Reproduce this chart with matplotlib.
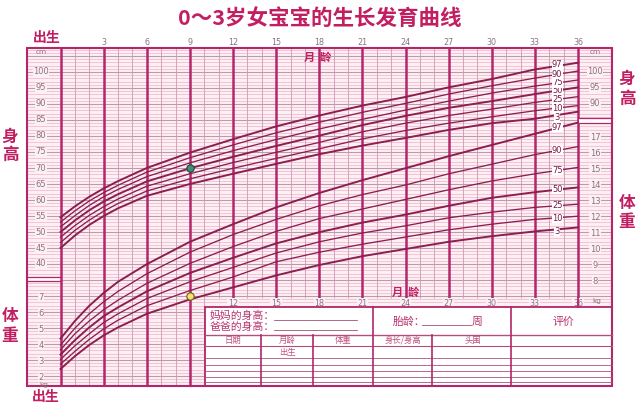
import numpy as np
import matplotlib
matplotlib.use('Agg')
import matplotlib.pyplot as plt
from matplotlib.patches import Rectangle
from matplotlib.transforms import offset_copy

plt.rcParams['font.family'] = ['Noto Sans CJK SC', 'DejaVu Sans']

# ---------------- data ----------------
months = [0, 1, 2, 3, 4, 6, 9, 12, 15, 18, 21, 24, 27, 30, 33, 36]
percentiles = ['3', '10', '25', '50', '75', '90', '97']

height_p3 = [45.0, 48.9, 52.2, 55.0, 57.4, 61.3, 65.0, 68.2, 71.3, 74.3, 77.0, 79.4, 81.9, 84.0, 85.4, 87.6]
height_p10 = [46.7, 50.5, 53.7, 56.5, 58.9, 62.8, 66.6, 69.9, 73.0, 76.0, 79.1, 81.7, 84.0, 86.0, 87.9, 89.5]
height_p25 = [48.4, 52.0, 55.2, 57.9, 60.3, 64.3, 68.2, 71.7, 74.9, 78.0, 81.3, 84.0, 86.4, 88.4, 90.5, 92.3]
height_p50 = [50.0, 53.6, 56.8, 59.5, 61.8, 65.8, 69.9, 73.5, 76.9, 80.1, 83.4, 86.3, 88.8, 90.9, 93.1, 95.2]
height_p75 = [51.6, 55.1, 58.3, 61.0, 63.3, 67.3, 71.6, 75.4, 78.9, 82.2, 85.2, 88.1, 90.9, 93.4, 95.6, 97.5]
height_p90 = [53.1, 56.6, 59.7, 62.3, 64.6, 68.7, 73.2, 77.2, 81.0, 84.3, 87.4, 90.2, 93.1, 95.7, 98.1, 100.3]
height_p97 = [54.6, 58.0, 61.0, 63.6, 65.9, 70.0, 74.8, 79.0, 83.0, 86.4, 89.5, 92.2, 95.2, 97.8, 100.8, 102.9]

weight_p3 = [2.5, 3.3, 4.0, 4.6, 5.1, 5.95, 6.85, 7.6, 8.35, 9.0, 9.55, 10.0, 10.45, 10.8, 11.1, 11.35]
weight_p10 = [2.8, 3.6, 4.35, 5.0, 5.55, 6.45, 7.4, 8.25, 9.2, 9.8, 10.3, 10.75, 11.2, 11.55, 11.85, 12.05]
weight_p25 = [3.1, 3.95, 4.7, 5.4, 5.95, 6.9, 7.95, 8.85, 9.75, 10.45, 11.0, 11.45, 11.95, 12.3, 12.6, 12.8]
weight_p50 = [3.4, 4.3, 5.1, 5.8, 6.35, 7.35, 8.5, 9.45, 10.35, 11.05, 11.65, 12.15, 12.7, 13.2, 13.55, 13.85]
weight_p75 = [3.7, 4.7, 5.5, 6.2, 6.8, 7.85, 9.1, 10.15, 11.1, 11.9, 12.5, 13.1, 13.7, 14.25, 14.7, 15.1]
weight_p90 = [4.0, 5.05, 5.95, 6.7, 7.35, 8.45, 9.8, 10.9, 11.85, 12.7, 13.4, 14.0, 14.7, 15.3, 15.9, 16.4]
weight_p97 = [4.4, 5.5, 6.45, 7.25, 7.95, 9.05, 10.45, 11.55, 12.6, 13.5, 14.3, 15.05, 15.8, 16.5, 17.2, 17.9]

height_series = [height_p3, height_p10, height_p25, height_p50, height_p75, height_p90, height_p97]
weight_series = [weight_p3, weight_p10, weight_p25, weight_p50, weight_p75, weight_p90, weight_p97]

month_ticks = [3, 6, 9, 12, 15, 18, 21, 24, 27, 30, 33, 36]
bottom_month_ticks = [12, 15, 18, 21, 24, 27, 30, 33, 36]
height_ticks_left = [100, 95, 90, 85, 80, 75, 70, 65, 60, 55, 50, 45, 40]
height_ticks_right = [100, 95, 90]
weight_ticks_left = [7, 6, 5, 4, 3, 2]
weight_ticks_right = [17, 16, 15, 14, 13, 12, 11, 10, 9, 8]

child_month = [9]
child_height = [70.0]
child_weight = [7.05]

title = '0～3岁女宝宝的生长发育曲线'

# ---------------- layout helpers ----------------
PXM = (578 - 60.5) / 36.0
def mx(px):
    return (px - 60.5) / PXM
def hy(py):
    return (392 - py) / 3.2
def wy(py):
    return (409 - py) / 16.0

CRIMSON = '#c21f63'
FRAME = '#b3266a'
CURVE = '#8a1f50'
NUM = '#8c7282'
BG = '#fdf0f5'

fig = plt.figure(figsize=(6.4, 4.18), dpi=100)
L, R, T, B = 27, 612, 48, 386
ax = fig.add_axes([L / 640, 1 - B / 418, (R - L) / 640, (B - T) / 418])
ax.set_xlim(mx(L), mx(R))
ax.set_ylim(hy(B), hy(T))
axw = ax.twinx()
axw.set_ylim(wy(B), wy(T))
for a in (ax, axw):
    a.set_xticks([])
    a.set_yticks([])
    for s in a.spines.values():
        s.set_visible(False)
ax.set_facecolor(BG)
axw.patch.set_visible(False)

# horizontal grid
for hc in range(2, 108):
    if hc % 5 == 0:
        ax.axhline(hc, color='#b89cac', lw=0.8, zorder=1)
    else:
        ax.axhline(hc, color='#f1b2c8', lw=0.5, zorder=0.8)

# vertical grid
for m in range(0, 37):
    top = hy(T)
    bot = hy(B) if m <= 10 else hy(298)
    if m % 3 == 0:
        ax.vlines(m, bot, top, color=FRAME, lw=1.8, zorder=2)
    else:
        ax.vlines(m, bot, top, color='#cc98b1', lw=0.6, zorder=1.5)

# curves
thick = {'3', '50', '97'}
LBL_M = 34.55
label_shift = {'3': -2.0, '10': -0.5, '97': 1.0}   # pixel nudges so labels stay apart
lblkw = dict(fontsize=6, color='#7a1a45', ha='center', va='center', family='DejaVu Sans',
             zorder=4, bbox=dict(fc='white', ec='none', pad=0.1))
for a, series in ((ax, height_series), (axw, weight_series)):
    for p, vals in zip(percentiles, series):
        a.plot(months, vals, color=CURVE, lw=1.4 if p in thick else 0.95, zorder=3)
        tr = offset_copy(a.transData, fig=fig, x=0, y=label_shift.get(p, 0.0) * 0.72, units='points')
        a.text(LBL_M, np.interp(LBL_M, months, vals), p, transform=tr, **lblkw)

# child points
ax.scatter(child_month, child_height, s=28, color='#3f8f72', edgecolor='#1f4a3a', lw=0.8, zorder=6)
axw.scatter(child_month, child_weight, s=28, color='#f3e46a', edgecolor='#6e5a1c', lw=0.8, zorder=6)

# scale labels
numkw = dict(fontsize=6, color=NUM, ha='center', va='center', family='DejaVu Sans', zorder=4,
             bbox=dict(fc=BG, ec='none', pad=0.4))
for h in height_ticks_left:
    ax.text(mx(41), h, str(h), **numkw)
for h in height_ticks_right:
    ax.text(mx(595), h, str(h), **numkw)
for w in weight_ticks_left:
    axw.text(mx(41), w, str(w), **numkw)
for w in weight_ticks_right:
    axw.text(mx(595), w, str(w), **numkw)

for m in month_ticks:
    ax.text(m, 1.0148, str(m), transform=ax.get_xaxis_transform(), fontsize=5.8, color=NUM,
            ha='center', va='center', family='DejaVu Sans')
for m in bottom_month_ticks:
    ax.text(m, hy(303), str(m), fontsize=5.8, color=NUM, ha='center', va='center',
            family='DejaVu Sans', zorder=4, bbox=dict(fc=BG, ec='none', pad=0.4))

ax.text(mx(318), hy(57), '月  龄', fontsize=8, color=CRIMSON, fontweight='bold',
        ha='center', va='center', zorder=4)
ax.text(mx(406), hy(292), '月  龄', fontsize=8, color=CRIMSON, fontweight='bold',
        ha='center', va='center', zorder=4)

# ---------------- overlay (frame, table, side texts) ----------------
ov = fig.add_axes([0, 0, 1, 1], zorder=5)
ov.set_xlim(0, 640)
ov.set_ylim(418, 0)
ov.axis('off')
ov.patch.set_visible(False)

ov.text(320, 18, title, fontsize=15.5, fontweight='bold', color=CRIMSON, ha='center', va='center')
ov.text(47, 38, '出生', fontsize=10, fontweight='bold', color=CRIMSON, ha='center', va='center')
ov.text(46, 397, '出生', fontsize=10, fontweight='bold', color=CRIMSON, ha='center', va='center')
for ch, x, y in [('身', 10, 137), ('高', 10, 155), ('体', 10, 316), ('重', 10, 336),
                 ('身', 627, 79), ('高', 627, 99), ('体', 627, 203), ('重', 627, 222)]:
    ov.text(x, y, ch, fontsize=12, fontweight='bold', color=CRIMSON, ha='center', va='center')

for x, y, t in [(41, 52, 'cm'), (595, 52, 'cm'), (44, 384.5, 'kg'), (597, 301, 'kg')]:
    ov.text(x, y, t, fontsize=5.3, color=NUM, ha='center', va='center', family='DejaVu Sans')

# column breaks
ov.add_patch(Rectangle((27.5, 276.5), 32.5, 4, fc='white', ec='none'))
ov.plot([27, 60.5], [276.5, 276.5], color=FRAME, lw=0.9)
ov.plot([27, 60.5], [280.5, 280.5], color=FRAME, lw=0.9)
ov.add_patch(Rectangle((578.5, 118), 33, 4.5, fc='white', ec='none'))
ov.plot([578, 612], [118, 118], color=FRAME, lw=0.9)
ov.plot([578, 612], [122.5, 122.5], color=FRAME, lw=0.9)
ov.plot([578, 578], [298, 307], color=FRAME, lw=1.3)

# table
ov.add_patch(Rectangle((205, 307), 407, 79, fc='white', ec=FRAME, lw=1.3))
ROW = '#b0507c'
for y, lw in [(335, 1.0), (345.5, 0.8), (358, 0.6), (365, 0.6), (371, 0.6), (376.5, 0.6), (381.5, 0.6)]:
    ov.plot([205, 612], [y, y], color=ROW, lw=lw)
for x, y0 in [(261, 335), (313, 335), (373, 307), (432, 335), (511, 307)]:
    ov.plot([x, x], [y0, 386], color=FRAME, lw=1.2)

TXT = '#b8336e'
ov.text(210, 316, '妈妈的身高：', fontsize=7.8, color=TXT, ha='left', va='center')
ov.text(210, 327, '爸爸的身高：', fontsize=7.8, color=TXT, ha='left', va='center')
ov.plot([274, 357], [319.5, 319.5], color='#a05075', lw=0.6)
ov.plot([274, 357], [330, 330], color='#a05075', lw=0.6)
ov.text(393, 322, '胎龄：', fontsize=7.8, color=TXT, ha='left', va='center')
ov.plot([422, 471], [325, 325], color='#a05075', lw=0.6)
ov.text(477, 322, '周', fontsize=7.8, color=TXT, ha='center', va='center')
ov.text(563, 322, '评价', fontsize=7.8, color=TXT, ha='center', va='center')
for x, t in [(233, '日期'), (287, '月龄'), (343, '体重'), (403, '身长/身高'), (473, '头围')]:
    ov.text(x, 340.5, t, fontsize=6, color='#c0507f', ha='center', va='center')
ov.text(287, 352, '出生', fontsize=6, color='#c0507f', ha='center', va='center')

# outer frame
ov.add_patch(Rectangle((27, 48), 585, 338, fc='none', ec=FRAME, lw=1.5))

fig.savefig('out.png', dpi=100)
